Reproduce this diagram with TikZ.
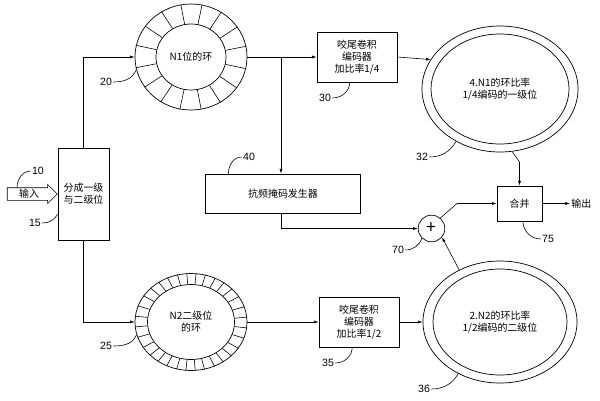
\documentclass[tikz,border=0pt]{standalone}
\usepackage{fontspec}
\setmainfont{Noto Sans CJK SC}
\setsansfont{Liberation Sans}
\usetikzlibrary{arrows.meta,shapes.geometric,shapes.arrows}

\begin{document}
\begin{tikzpicture}[
  x=0.3mm, y=-0.3mm,
  font=\fontsize{8.5}{10.5}\selectfont,
  >={Latex[length=4pt,width=2.6pt]},
  box/.style={draw, align=center, inner sep=2pt, line width=0.6pt},
  ring/.style={draw, ellipse, align=center, inner sep=0pt, line width=0.6pt},
  seg/.style={line width=0.5pt},
  flow/.style={->, line width=0.5pt},
  lbl/.style={font=\sffamily\fontsize{9}{10}\selectfont, inner sep=1pt},
  lead/.style={line width=0.5pt}
]
\useasboundingbox (0,0) rectangle (600,400);

% ── Left: input and splitter ──
\node[box, minimum width=15.3mm, minimum height=27.6mm] (split) at (83.5,194)
  {分成一级\\与二级位};
\node[single arrow, draw, line width=0.5pt, fill=white, anchor=tip,
  minimum height=15mm, single arrow head extend=1mm, inner sep=1.2pt] (in) at (split.west)
  {输入\hspace{5mm}};

% ── Rings of bits ──
\node[ring, minimum width=33.6mm, minimum height=31.8mm] (ring1) at (191,57) {};
\node[ring, minimum width=21mm, minimum height=19.8mm] (ring1in) at (ring1) {N1位的环};
\foreach \i [evaluate=\i as \a using 11.25+22.5*\i] in {0,...,15}
  \draw[seg] (ring1in.\a) -- (ring1.\a);

\node[ring, minimum width=33.6mm, minimum height=29.1mm] (ring2) at (191,322) {};
\node[ring, minimum width=26.1mm, minimum height=22.5mm] (ring2in) at (ring2) {N2二级位\\的环};
\foreach \i [evaluate=\i as \a using 5.625+11.25*\i] in {0,...,31}
  \draw[seg] (ring2in.\a) -- (ring2.\a);

% ── Coders ──
\node[box, minimum width=24mm, minimum height=15mm] (box30) at (357,57)
  {咬尾卷积\\编码器\\加比率1/4};
\node[box, minimum width=24mm, minimum height=15mm] (box35) at (359,322)
  {咬尾卷积\\编码器\\加比率1/2};
\node[box, minimum width=46.5mm, minimum height=11.7mm] (box40) at (283,193.5)
  {抗频掩码发生器};

% ── Right: coded rings ──
\node[ring, minimum width=46.8mm, minimum height=37.8mm] (ring32) at (500,89) {};
\node[ring, minimum width=41.4mm, minimum height=33mm] (ring32in) at (ring32)
  {4.N1的环比率\\1/4编码的一级位};
\node[ring, minimum width=46.2mm, minimum height=36.6mm] (ring36) at (500,322) {};
\node[ring, minimum width=40.2mm, minimum height=31.8mm] (ring36in) at (ring36)
  {2.N2的环比率\\1/2编码的二级位};

% ── Adder and merge ──
\node[draw, circle, minimum size=8mm, inner sep=0pt, line width=0.6pt] (add) at (431.5,228.5)
  {\fontsize{15}{15}\selectfont +};
\node[box, minimum width=13.5mm, minimum height=10.5mm] (box75) at (519.5,203.5) {合并};
\node[anchor=west, inner sep=1pt] (out) at (570,203.5) {输出};

% ── Arrows ──
\draw[flow] (split.north) |- (ring1.west);
\draw[flow] (split.south) |- (ring2.west);
\draw[flow] (ring1.east) -- (box30.west);
\coordinate (j1) at (281,57);
\draw[flow] (j1) -- (j1 |- box40.north);
\draw[flow] (j1 |- box40.south) |- (add.west);
\draw[flow] (box30.east) -- (ring32.157);
\coordinate (k1) at (519.5,162);
\draw[flow] (ring32.-79) -- (k1) -- (box75.north);
\coordinate (k2) at (457,203.5);
\draw[flow] (add.50) -- (k2) -- (box75.west);
\draw[flow] (box75.east) -- (out.west);
\draw[flow] (ring36.128) -- (add.-40);
\draw[flow] (ring2.east) -- (box35.west);
\draw[flow] (box35.east) -- (ring36.west);

% ── Reference numbers ──
\node[lbl] (n10) at (38,171) {10};
\coordinate (t10) at (17,188);
\draw[lead] (n10.west) to[out=180,in=90] (t10);
\node[lbl] (n15) at (35,223) {15};
\draw[lead] (n15.east) to[out=0,in=240] (split.218);
\node[lbl] (n20) at (106,82) {20};
\draw[lead] (n20.east) to[out=0,in=250] (ring1.193);
\node[lbl] (n25) at (106,346) {25};
\draw[lead] (n25.east) to[out=0,in=250] (ring2.193);
\node[lbl] (n30) at (325,98) {30};
\draw[lead] (n30.east) to[out=0,in=-90] (box30.-106);
\node[lbl] (n32) at (422,157) {32};
\draw[lead] (n32.east) to[out=0,in=240] (ring32.230);
\node[lbl] (n40) at (249,157) {40};
\draw[lead] (n40.west) to[out=180,in=90] (box40.160);
\node[lbl] (n70) at (398,250) {70};
\draw[lead] (n70.east) to[out=0,in=250] (add.225);
\node[lbl] (n75) at (548,239) {75};
\draw[lead] (n75.west) to[out=180,in=-90] (box75.-79);
\node[lbl] (n35) at (328,363) {35};
\draw[lead] (n35.east) to[out=0,in=-90] (box35.-105);
\node[lbl] (n36) at (424,389) {36};
\draw[lead] (n36.east) to[out=0,in=240] (ring36.231);

\end{tikzpicture}
\end{document}
